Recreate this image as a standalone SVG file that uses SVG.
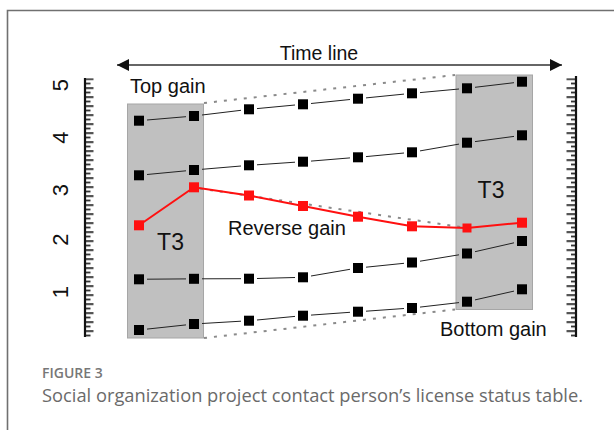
<svg xmlns="http://www.w3.org/2000/svg" width="614" height="430" viewBox="0 0 614 430">
<style>
.lbl{font-family:"Liberation Sans",Arial,sans-serif;fill:#111}
.box{fill:#c0c0c0;stroke:#a6a6a6;stroke-width:1}
.ln{stroke:#222;stroke-width:1;fill:none}
.red{stroke:#ff1010;stroke-width:2;fill:none}
.dot{stroke:#8a8a8a;stroke-width:2;stroke-dasharray:3 7;fill:none}
.sq{fill:#000}
.rsq{fill:#ff1010}
.axis{stroke:#111;stroke-width:2.2;fill:none}
.cap{font-family:"Open Sans","Noto Sans",sans-serif}
</style>
<defs>
<marker id="ah" viewBox="0 0 12 12" refX="12" refY="6" markerWidth="12" markerHeight="12" markerUnits="userSpaceOnUse" orient="auto-start-reverse">
<path d="M0,0 L12,6 L0,12 z" fill="#111"/>
</marker>
<pattern id="tkL" patternUnits="userSpaceOnUse" x="85" y="78.3" width="9" height="9">
<rect x="0" y="0" width="8.5" height="1.6" fill="#111"/>
<rect x="0" y="4.5" width="5.5" height="1.6" fill="#111"/>
</pattern>
<pattern id="tkR" patternUnits="userSpaceOnUse" x="566" y="78.3" width="10" height="9">
<rect x="0.5" y="0" width="9.5" height="1.6" fill="#111"/>
<rect x="5" y="4.5" width="5" height="1.6" fill="#111"/>
</pattern>
</defs>

<g id="frame">
<path d="M7.5,430 V10.5 H614" fill="none" stroke="#707070" stroke-width="1.6"/>
</g>

<g id="timeline">
<line x1="117" y1="65" x2="562" y2="65" stroke="#333" stroke-width="1.4" marker-start="url(#ah)" marker-end="url(#ah)"/>
<text class="lbl" x="319" y="60" font-size="19.5" text-anchor="middle">Time line</text>
</g>

<g id="axis-left">
<line class="axis" x1="85" y1="78" x2="85" y2="337"/>
<rect x="85" y="78.3" width="9" height="259" fill="url(#tkL)"/>
<g class="lbl" font-size="22" text-anchor="middle">
<text transform="translate(68,85) rotate(-90)">5</text>
<text transform="translate(68,137.5) rotate(-90)">4</text>
<text transform="translate(68,190) rotate(-90)">3</text>
<text transform="translate(68,239.5) rotate(-90)">2</text>
<text transform="translate(68,292) rotate(-90)">1</text>
</g>
</g>

<g id="axis-right">
<line class="axis" x1="576" y1="76" x2="576" y2="337"/>
<rect x="566" y="78.3" width="10" height="259" fill="url(#tkR)"/>
</g>

<g id="box-left">
<rect class="box" x="127.5" y="104" width="76" height="234"/>
<text class="lbl" x="170.5" y="250" font-size="23" text-anchor="middle">T3</text>
</g>
<g id="box-right">
<rect class="box" x="456" y="75" width="76.5" height="234.5"/>
<text class="lbl" x="491" y="198" font-size="23" text-anchor="middle">T3</text>
</g>

<g id="connectors">
<path class="dot" d="M204,103 L455,75"/>
<path class="dot" d="M204,338 L455,309.5"/>
<path class="dot" d="M200,188.5 L461,227"/>
<path class="ln" d="M147,120 L186,116.7 M202,115 L241,110.3 M257,108.6 L295,105 M311,103.5 L350,99.5 M366,97.9 L404,94.1 M420,92.6 L459,89 M475,87.3 L514,82.7"/>
<path class="ln" d="M147,174.5 L186,170.8 M202,169.3 L241,166 M257,164.8 L295,162.2 M311,161.1 L350,157.9 M366,156.6 L404,153 M420,150.9 L459,144.1 M475,141.6 L514,136.4"/>
<path class="ln" d="M147,279.2 L186,278.9 M202,278.8 L241,278.7 M257,278.5 L295,277.5 M311,276 L350,269.3 M366,267.2 L404,263.3 M420,261.2 L459,254.8 M475,251.7 L514,242.8"/>
<path class="ln" d="M147,329.1 L186,324.9 M202,323.5 L241,321.2 M257,320 L295,316.4 M311,315.1 L350,312.3 M366,311.2 L404,308.5 M420,307.1 L459,302.6 M475,299.9 L514,291.1"/>
<polyline class="red" points="139,225.3 194,187.3 249,195.5 303,206 358,216.7 412,226.3 467,228 522,222.7"/>
</g>

<g id="points">
<g class="sq">
<rect x="134" y="115.7" width="10" height="10"/><rect x="189" y="111" width="10" height="10"/><rect x="244" y="104.3" width="10" height="10"/><rect x="298" y="99.3" width="10" height="10"/><rect x="353" y="93.7" width="10" height="10"/><rect x="407" y="88.3" width="10" height="10"/><rect x="462" y="83.3" width="10" height="10"/><rect x="517" y="76.7" width="10" height="10"/>
<rect x="134" y="170.3" width="10" height="10"/><rect x="189" y="165" width="10" height="10"/><rect x="244" y="160.3" width="10" height="10"/><rect x="298" y="156.7" width="10" height="10"/><rect x="353" y="152.3" width="10" height="10"/><rect x="407" y="147.3" width="10" height="10"/><rect x="462" y="137.7" width="10" height="10"/><rect x="517" y="130.3" width="10" height="10"/>
<rect x="134" y="274.3" width="10" height="10"/><rect x="189" y="273.8" width="10" height="10"/><rect x="244" y="273.7" width="10" height="10"/><rect x="298" y="272.3" width="10" height="10"/><rect x="353" y="263" width="10" height="10"/><rect x="407" y="257.5" width="10" height="10"/><rect x="462" y="248.5" width="10" height="10"/><rect x="517" y="236" width="10" height="10"/>
<rect x="134" y="325" width="10" height="10"/><rect x="189" y="319" width="10" height="10"/><rect x="244" y="315.7" width="10" height="10"/><rect x="298" y="310.7" width="10" height="10"/><rect x="353" y="306.7" width="10" height="10"/><rect x="407" y="303" width="10" height="10"/><rect x="462" y="296.7" width="10" height="10"/><rect x="517" y="284.3" width="10" height="10"/>
</g>
<g class="rsq">
<rect x="134" y="220.3" width="10" height="10"/><rect x="189" y="182.3" width="10" height="10"/><rect x="244" y="190.5" width="10" height="10"/><rect x="298" y="201" width="10" height="10"/><rect x="353" y="211.7" width="10" height="10"/><rect x="407" y="221.3" width="10" height="10"/><rect x="462.5" y="223.5" width="9" height="9"/><rect x="517" y="217.7" width="10" height="10"/>
</g>
</g>

<g id="labels" class="lbl" font-size="20">
<text x="130" y="93">Top gain</text>
<text x="228" y="235">Reverse gain</text>
<text x="440" y="336">Bottom gain</text>
</g>

<g id="caption" class="cap">
<text x="42" y="378" font-size="14" font-weight="600" fill="#777">FIGURE 3</text>
<text x="42" y="402" font-size="18.3" fill="#6a6a6a">Social organization project contact person’s license status table.</text>
</g>
</svg>
